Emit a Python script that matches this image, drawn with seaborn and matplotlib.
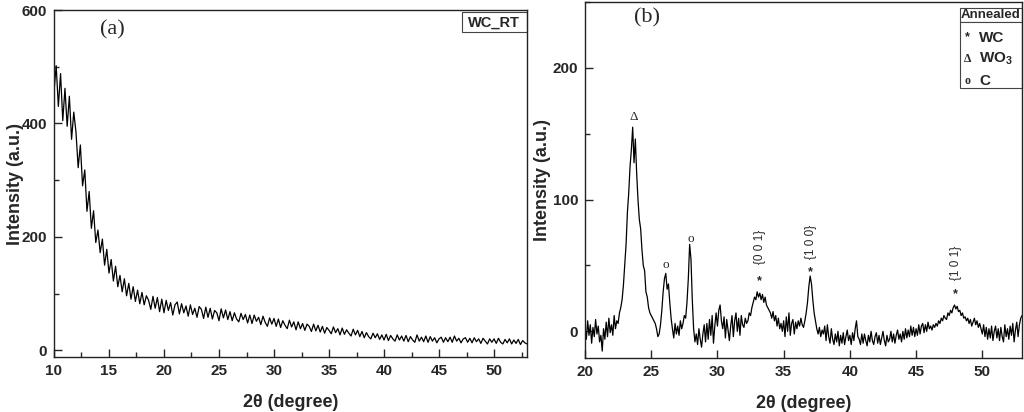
import numpy as np
import matplotlib
matplotlib.use("Agg")
import matplotlib.pyplot as plt
from matplotlib.patches import Rectangle
from matplotlib.ticker import MultipleLocator
import seaborn as sns

# ---- data ----
# (a) as-deposited WC film, 2theta grid 10..53 step 0.2
two_theta_rt = np.round(np.arange(10, 53.01, 0.2), 1)
intensity_rt = [
    455, 502, 430, 488, 405, 462, 395, 448, 372, 420,
    385, 322, 362, 290, 318, 245, 280, 215, 246, 190,
    212, 172, 196, 150, 178, 136, 160, 122, 148, 112,
    132, 103, 126, 96, 118, 90, 112, 86, 106, 82,
    102, 80, 96, 88, 72, 95, 74, 93, 68, 90,
    66, 88, 70, 84, 62, 80, 85, 64, 82, 66,
    78, 60, 80, 63, 74, 58, 77, 72, 56, 76,
    58, 74, 55, 70, 66, 52, 73, 57, 71, 54,
    68, 52, 66, 55, 50, 65, 54, 63, 48, 62,
    47, 62, 51, 58, 45, 60, 49, 42, 57, 46,
    56, 42, 55, 40, 52, 44, 38, 53, 41, 50,
    36, 50, 38, 47, 35, 46, 42, 33, 46, 34,
    44, 32, 42, 30, 40, 35, 29, 41, 31, 38,
    27, 39, 28, 36, 30, 25, 37, 27, 35, 24,
    33, 22, 31, 24, 20, 30, 22, 29, 19, 27,
    18, 28, 17, 26, 20, 16, 27, 18, 25, 16,
    26, 15, 24, 18, 14, 27, 16, 23, 15, 25,
    14, 24, 16, 22, 13, 20, 23, 14, 22, 15,
    23, 14, 25, 16, 21, 13, 20, 22, 14, 21,
    13, 22, 15, 20, 12, 21, 16, 11, 20, 14,
    20, 12, 21, 14, 11, 19, 13, 20, 11, 18,
    12, 19, 10, 17, 13, 11,
]

# (b) annealed film, 2theta grid 20..53 step 0.1
two_theta_ann = np.round(np.arange(20, 53.01, 0.1), 1)
intensity_ann = [
    2, -6, 8, -3, 5, -9, 3, -4, 9, -2,
    4, -8, -3, -15, 2, -6, 7, -4, 10, -1,
    5, -3, 12, 2, 8, 6, 14, 18, 24, 35,
    50, 66, 90, 105, 125, 138, 155, 128, 146, 120,
    100, 85, 78, 62, 50, 46, 30, 26, 18, 14,
    12, 10, 8, 6, 2, -4, -2, 5, 16, 30,
    40, 44, 32, 36, 22, 10, 2, -5, 6, -2,
    4, -3, 8, 2, 6, 12, 10, 22, 40, 66,
    55, 24, 2, -8, -2, -10, 2, -6, -12, -2,
    5, -8, 6, -6, 9, -3, 12, -9, 4, 14,
    4, 16, 20, 8, 2, 11, -5, 9, 1, -7,
    4, 12, -4, 8, 14, 0, 10, -3, 12, 5,
    3, 10, 6, 8, 14, 12, 18, 22, 26, 24,
    30, 26, 29, 24, 28, 22, 26, 20, 18, 16,
    14, 10, 15, 8, 12, 4, 10, 2, 6, 0,
    8, -4, 11, 0, 14, -3, 6, 9, -2, 7,
    2, 8, 4, 10, 5, 3, 8, 14, 22, 34,
    42, 36, 24, 14, 8, 2, -2, 3, -4, 1,
    -2, 4, -7, 5, -4, -9, 2, -6, -10, -2,
    -8, 0, -11, -3, -9, -1, -10, -4, 1, -7,
    -3, -10, -1, -7, 2, 8, -4, -6, -10, -2,
    -9, -2, -7, -11, -3, -8, 0, -7, -10, -4,
    -1, -9, -3, -10, -5, 0, -7, -11, -3, -8,
    -6, 0, -8, -2, -9, -3, 1, -6, -2, -8,
    0, -6, 2, -5, 1, -4, 4, -3, 3, -4,
    2, -3, 5, -2, 4, 6, -1, 5, 0, 7,
    2, 4, 1, 5, 3, 6, 4, 8, 6, 10,
    8, 12, 10, 9, 14, 12, 16, 14, 18, 20,
    17, 19, 15, 16, 12, 14, 10, 11, 8, 10,
    6, 9, 4, 7, 10, 5, 8, 3, 6, 2,
    -2, 5, -4, 3, -6, 2, -5, 4, -7, 0,
    4, -5, 2, -7, 3, -4, -8, 5, -4, 2,
    -6, 4, -3, 6, -8, 1, 7, -4, 5, 10,
    12,
]

# phase marks above peaks
mark_pos = [23.7, 26.1, 28.0, 33.2, 37.05, 48.0]
mark_y = [163, 50, 70, 38, 45, 28]
mark_sym = ["Δ", "o", "o", "*", "*", "*"]
hkl_pos = [33.2, 37.05, 48.0]
hkl_y = [64, 68, 52]
hkl_labels = ["{0 0 1}", "{1 0 0}", "{1 0 1}"]

sns.set_style("ticks")
plt.rcParams["font.family"] = ["Liberation Sans", "DejaVu Sans"]
plt.rcParams["font.weight"] = "bold"
plt.rcParams["mathtext.fontset"] = "custom"
plt.rcParams["mathtext.rm"] = "Liberation Sans"
plt.rcParams["mathtext.bf"] = "Liberation Sans:bold"

fig = plt.figure(figsize=(10.24, 4.12), dpi=100)
ax1 = fig.add_axes([0.0527, 0.1335, 0.462, 0.842])
ax2 = fig.add_axes([0.5713, 0.1318, 0.4268, 0.8633])

sns.lineplot(x=two_theta_rt, y=intensity_rt, ax=ax1, color="black",
             linewidth=0.9, estimator=None, sort=False)
sns.lineplot(x=two_theta_ann, y=intensity_ann, ax=ax2, color="black",
             linewidth=0.9, estimator=None, sort=False)

ax1.set_xlim(10, 53)
ax1.set_ylim(-12, 600)
ax1.xaxis.set_major_locator(MultipleLocator(5))
ax1.xaxis.set_minor_locator(MultipleLocator(2.5))
ax1.yaxis.set_major_locator(MultipleLocator(200))
ax1.yaxis.set_minor_locator(MultipleLocator(100))

ax2.set_xlim(20, 53)
ax2.set_ylim(-20, 250)
ax2.xaxis.set_major_locator(MultipleLocator(5))
ax2.yaxis.set_major_locator(MultipleLocator(100))
ax2.yaxis.set_minor_locator(MultipleLocator(50))

for ax in (ax1, ax2):
    ax.tick_params(which="major", direction="in", length=6, width=1,
                   labelsize=11, pad=5, top=False, right=False)
    ax.tick_params(which="minor", direction="in", length=3.5, width=1,
                   top=False, right=False)
    for lab in ax.get_xticklabels() + ax.get_yticklabels():
        lab.set_fontweight("bold")
    for sp in ax.spines.values():
        sp.set_visible(True)
        sp.set_linewidth(1)
        sp.set_color("#222222")
    xl = ax.set_xlabel("2θ (degree)", fontsize=13, fontweight="bold")
    xl.set_va("center")
    yl = ax.set_ylabel("Intensity (a.u.)", fontsize=13, fontweight="bold")
    yl.set_va("center")
    ax.xaxis.set_label_coords(0.5, -0.13)

ax1.yaxis.set_label_coords(-0.082, 0.5)
ax2.yaxis.set_label_coords(-0.098, 0.5)

# panel letters
ax1.text(0.123, 0.942, "(a)", transform=ax1.transAxes, ha="center", va="center",
         fontsize=16, fontweight="normal", family="Liberation Serif")
ax2.text(0.142, 0.955, "(b)", transform=ax2.transAxes, ha="center", va="center",
         fontsize=16, fontweight="normal", family="Liberation Serif")

# WC_RT box
ax1.add_patch(Rectangle((0.862, 0.937), 0.138, 0.057, transform=ax1.transAxes,
                        facecolor="white", edgecolor="#444444", linewidth=0.8,
                        clip_on=False))
ax1.text(0.931, 0.965, "WC_RT", transform=ax1.transAxes, ha="center",
         va="center", fontsize=10.5, fontweight="bold")

# peak marks
for xp, yp, s in zip(mark_pos, mark_y, mark_sym):
    if s == "*":
        ax2.text(xp, yp, s, ha="center", va="center", fontsize=9,
                 fontweight="bold")
    else:
        ax2.text(xp, yp, s, ha="center", va="center", fontsize=9.5,
                 family="Liberation Serif", fontweight="normal")
for xp, yp, s in zip(hkl_pos, hkl_y, hkl_labels):
    ax2.text(xp, yp, s, ha="center", va="center", rotation=90, fontsize=8.5,
             fontweight="normal")

# Annealed legend
ax2.add_patch(Rectangle((0.858, 0.944), 0.142, 0.039, transform=ax2.transAxes,
                        facecolor="white", edgecolor="#444444", linewidth=0.8,
                        clip_on=False))
ax2.text(0.929, 0.9635, "Annealed", transform=ax2.transAxes, ha="center",
         va="center", fontsize=9.5, fontweight="bold")
ax2.add_patch(Rectangle((0.858, 0.758), 0.142, 0.186, transform=ax2.transAxes,
                        facecolor="white", edgecolor="#444444", linewidth=0.8,
                        clip_on=False))
leg_sym = ["*", "Δ", "o"]
leg_txt = ["WC", r"WO$_\mathbf{3}$", "C"]
leg_y = [0.900, 0.841, 0.777]
for s, t, yy in zip(leg_sym, leg_txt, leg_y):
    ax2.text(0.876, yy, s, transform=ax2.transAxes, ha="center", va="center",
             fontsize=9 if s == "*" else 8.5, fontweight="bold",
             family="Liberation Sans" if s == "*" else "Liberation Serif")
    ax2.text(0.902, yy, t, transform=ax2.transAxes, ha="left", va="center",
             fontsize=11, fontweight="bold")

fig.savefig("out.png", dpi=100)
